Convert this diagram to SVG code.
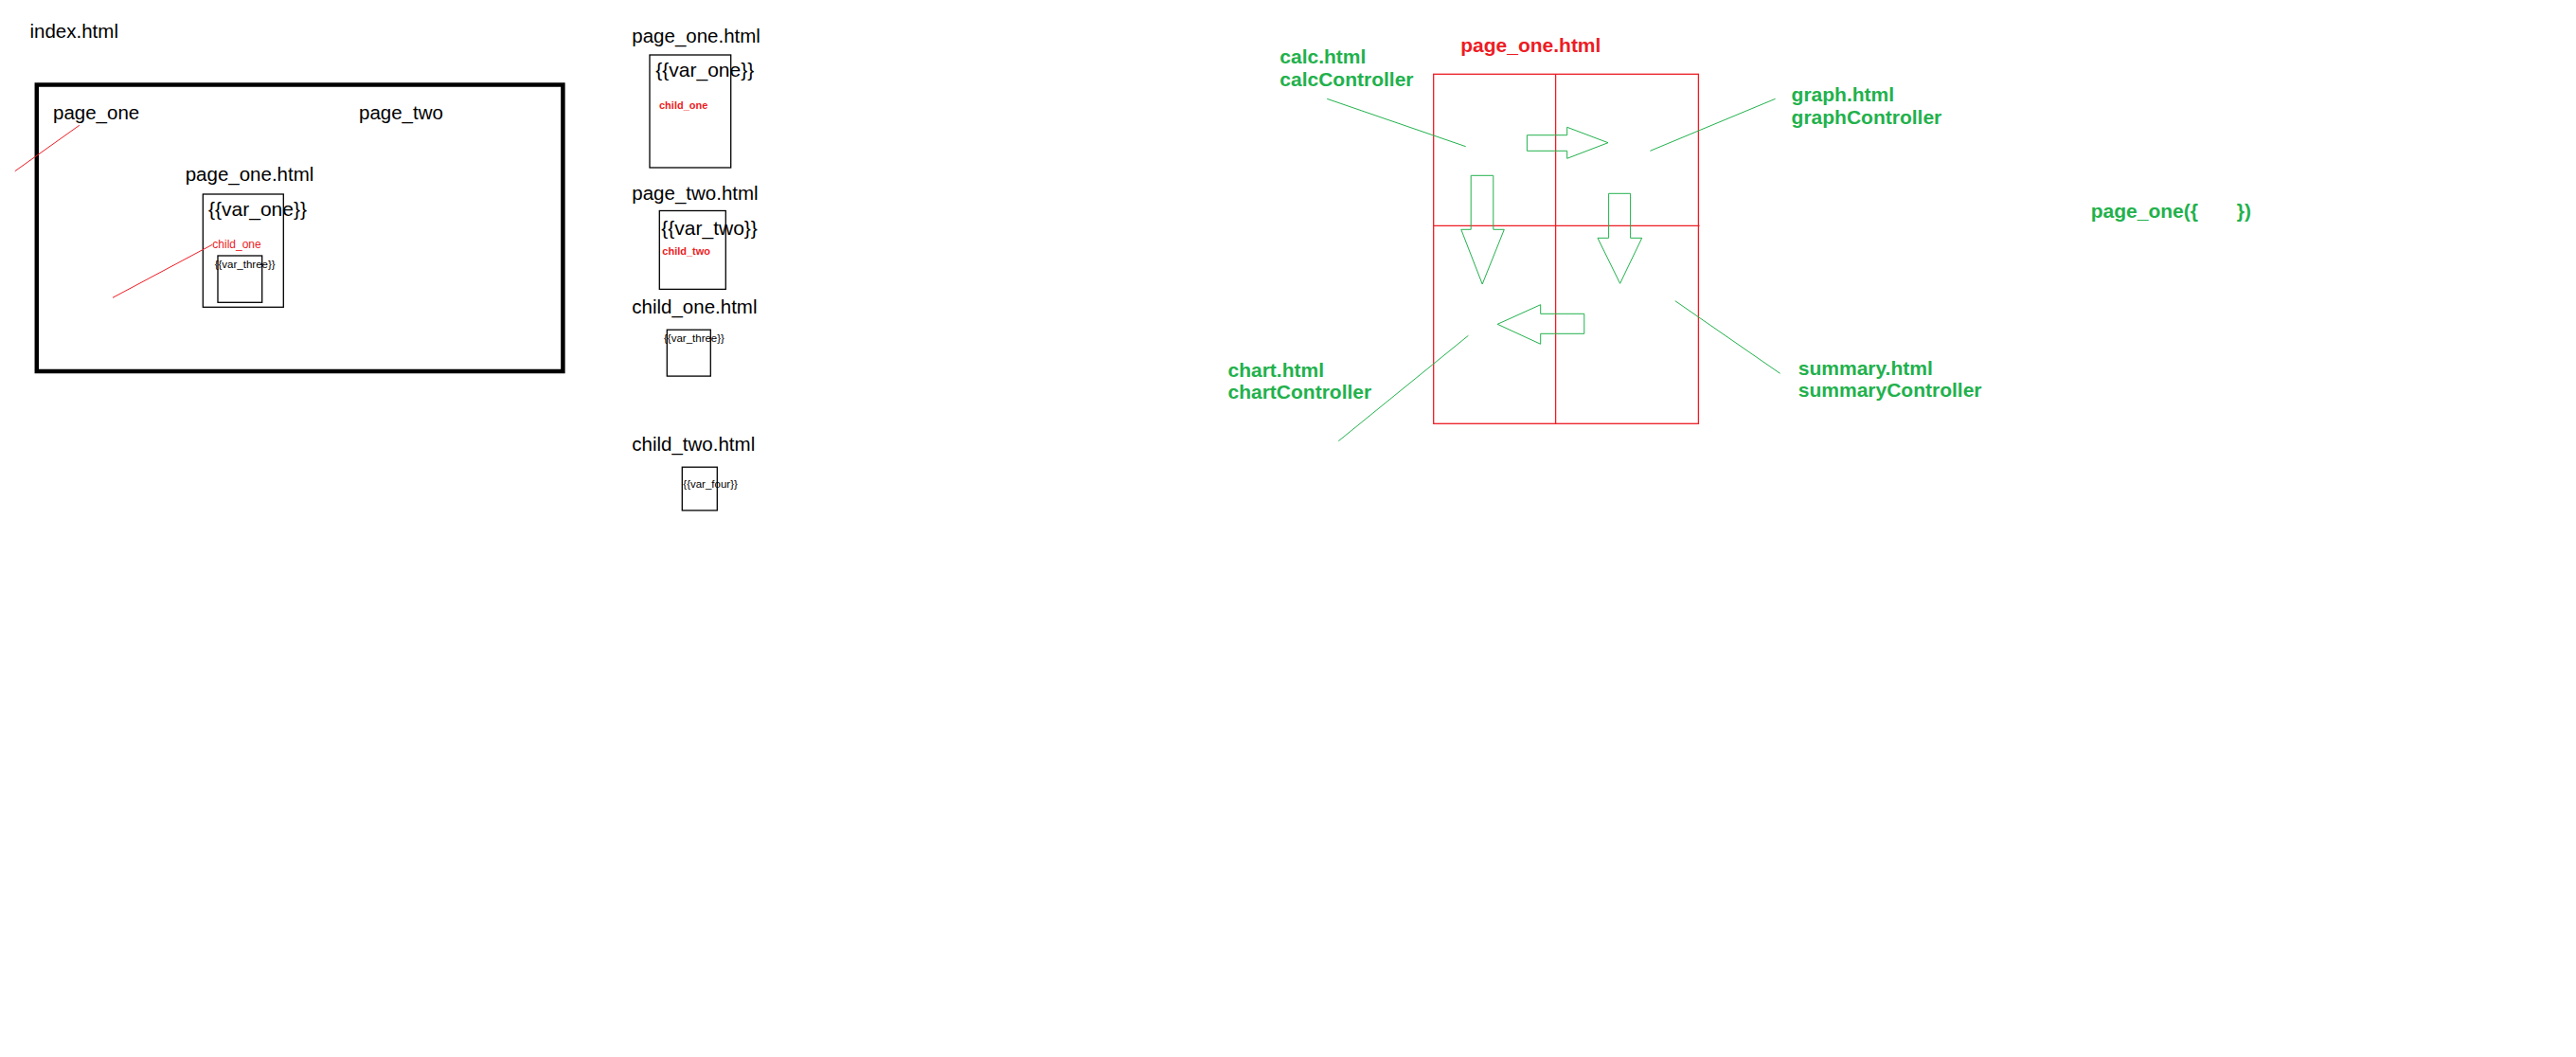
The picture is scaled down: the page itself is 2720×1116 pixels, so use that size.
<svg xmlns="http://www.w3.org/2000/svg" width="2720" height="1116" viewBox="0 0 2720 1116">
<style>
text{font-family:"Liberation Sans",Arial,sans-serif}
.t{font-size:20.5px;fill:#000}
.v{font-size:21px;fill:#000}
.s{font-size:11.5px;fill:#000}
.rc{font-size:12px;fill:#ed1c24}
.rb{font-size:11px;font-weight:bold;fill:#ed1c24}
.rt{font-size:21px;font-weight:bold;fill:#ed1c24}
.g{font-size:21px;font-weight:bold;fill:#22b14c}
.box{fill:none;stroke:#000;stroke-width:1.3}
.big{fill:none;stroke:#000;stroke-width:4.5}
.rl{fill:none;stroke:#ed1c24;stroke-width:1}
.gl{fill:none;stroke:#22b14c;stroke-width:1}
.grid{fill:none;stroke:#ed1c24;stroke-width:1.3}
</style>
<rect width="2720" height="1116" fill="#fff"/>

<g id="index">
<text class="t" x="31.5" y="40">index.html</text>
<rect class="big" x="38.8" y="89.5" width="555.6" height="302.5"/>
<text class="t" x="56" y="126">page_one</text>
<text class="t" x="379" y="126">page_two</text>
</g>
<g id="index-page-one">
<text class="t" x="195.7" y="191">page_one.html</text>
<rect class="box" x="214.3" y="205" width="85" height="119.3"/>
<text class="v" x="220" y="228">{{var_one}}</text>
<text class="rc" x="224.3" y="261.7">child_one</text>
<rect class="box" x="230" y="270" width="46.7" height="49.3"/>
<text class="s" x="226.7" y="282.7">{{var_three}}</text>
</g>

<g id="page-one-def">
<text class="t" x="667.3" y="44.6">page_one.html</text>
<rect class="box" x="686" y="58" width="85.7" height="119"/>
<text class="v" x="692.3" y="80.5">{{var_one}}</text>
<text class="rb" x="696" y="115">child_one</text>
</g>
<g id="page-two-def">
<text class="t" x="667.3" y="211.4">page_two.html</text>
<rect class="box" x="696.3" y="222.5" width="70" height="82.9"/>
<text class="v" x="698.3" y="248">{{var_two}}</text>
<text class="rb" x="699.3" y="268.6">child_two</text>
</g>
<g id="child-one-def">
<text class="t" x="667.3" y="331.4">child_one.html</text>
<rect class="box" x="704.3" y="348.2" width="46" height="48.9"/>
<text class="s" x="701" y="360.7">{{var_three}}</text>
</g>
<g id="child-two-def">
<text class="t" x="667.3" y="476">child_two.html</text>
<rect class="box" x="720.3" y="493.2" width="37" height="45.7"/>
<text class="s" x="721.3" y="515.4">{{var_four}}</text>
</g>

<g id="layout">
<text class="rt" x="1542.2" y="55">page_one.html</text>
<rect class="grid" x="1513.7" y="78.3" width="279.7" height="369"/>
<line class="grid" x1="1642.6" y1="78.3" x2="1642.6" y2="447.3"/>
<line class="grid" x1="1513.7" y1="238.3" x2="1794.5" y2="238.3"/>
</g>
<g id="calc">
<text class="g" x="1351.3" y="66.7">calc.html</text>
<text class="g" x="1351.3" y="90.7">calcController</text>
</g>
<g id="graph">
<text class="g" x="1891.6" y="107.3">graph.html</text>
<text class="g" x="1891.6" y="130.7">graphController</text>
</g>
<g id="chart">
<text class="g" x="1296.5" y="397.7">chart.html</text>
<text class="g" x="1296.5" y="421">chartController</text>
</g>
<g id="summary">
<text class="g" x="1898.8" y="396">summary.html</text>
<text class="g" x="1898.8" y="419.3">summaryController</text>
</g>
<g id="call">
<text class="g" x="2207.7" y="230" xml:space="preserve">page_one({       })</text>
</g>

<g id="connectors">
<line class="rl" x1="15.8" y1="180.7" x2="83.8" y2="132.3"/>
<line class="rl" x1="119" y1="314.3" x2="224.2" y2="258.3"/>
<line class="gl" x1="1401.2" y1="104.3" x2="1547.7" y2="154.7"/>
<line class="gl" x1="1874.6" y1="104.3" x2="1742.4" y2="159.3"/>
<line class="gl" x1="1413.3" y1="465.7" x2="1550.4" y2="354.3"/>
<line class="gl" x1="1768.8" y1="317.7" x2="1879.6" y2="394.3"/>
<polygon class="gl" points="1612.4,142.7 1654.7,142.7 1654.7,134.3 1698,150.7 1654.7,167.3 1654.7,159.3 1612.4,159.3"/>
<polygon class="gl" points="1553.2,185.3 1576.8,185.3 1576.8,242.3 1588.3,242.3 1565.2,300 1542.8,242.3 1553.2,242.3"/>
<polygon class="gl" points="1698.6,204.3 1721.6,204.3 1721.6,251.3 1733.7,251.3 1710.6,299.3 1687,251.3 1698.6,251.3"/>
<polygon class="gl" points="1672.8,331.3 1672.8,352.3 1626.7,352.3 1626.7,363.3 1581.2,342.3 1626.7,321.7 1626.7,331.3"/>
</g>
</svg>
